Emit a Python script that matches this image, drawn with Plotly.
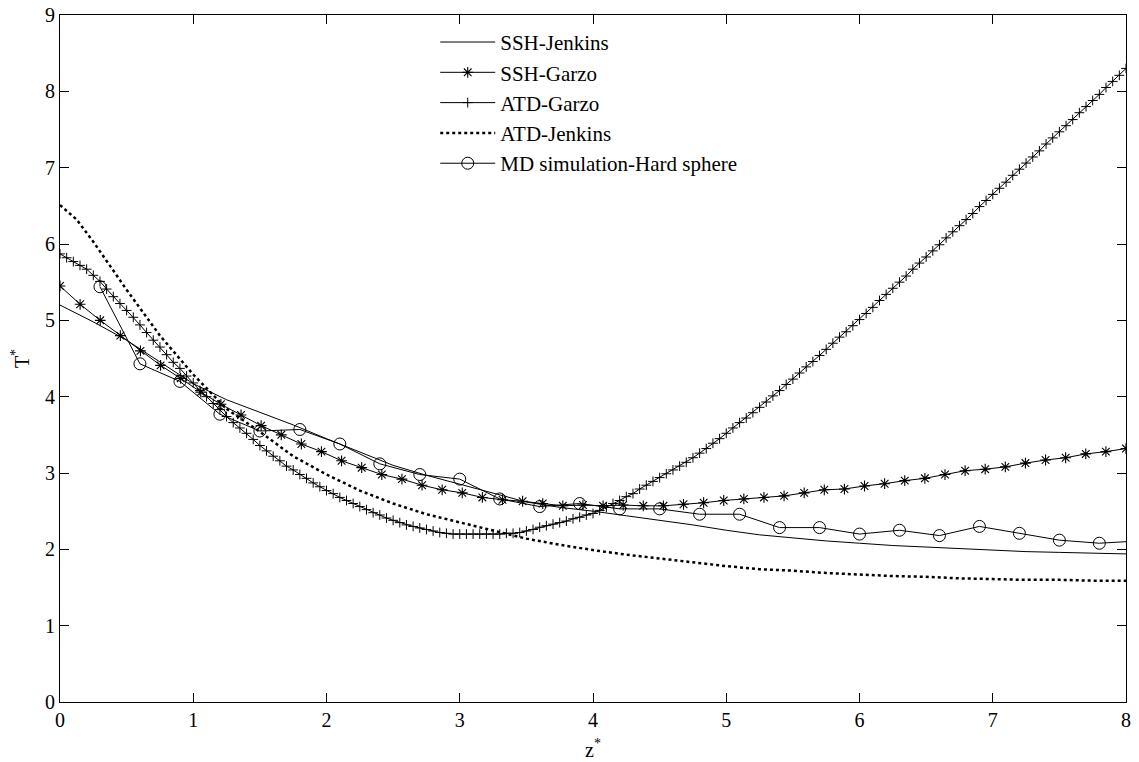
import numpy as np
import plotly.graph_objects as go

# ---- SSH-Jenkins (solid line) ----
ssh_jenkins_z = [0.0, 0.25, 0.5, 0.75, 1.0, 1.25, 1.5, 1.75, 2.0, 2.25, 2.5, 2.75, 3.0,
                 3.25, 3.5, 3.75, 4.0, 4.25, 4.5, 4.75, 5.0, 5.25, 5.5, 5.75, 6.0,
                 6.25, 6.5, 6.75, 7.0, 7.25, 7.5, 7.75, 8.0]
ssh_jenkins_t = [5.20, 4.98, 4.74, 4.45, 4.17, 3.96, 3.80, 3.63, 3.45, 3.27, 3.10, 2.97, 2.85,
                 2.73, 2.62, 2.55, 2.50, 2.44, 2.38, 2.32, 2.25, 2.19, 2.15, 2.11, 2.08,
                 2.05, 2.03, 2.01, 1.99, 1.97, 1.96, 1.95, 1.94]

# ---- SSH-Garzo (asterisks), 54 grid points on [0, 8] ----
ssh_garzo_z = np.linspace(0.0, 8.0, 54)
ssh_garzo_t = [5.45, 5.21, 5.00, 4.80, 4.60, 4.41, 4.24, 4.06, 3.90, 3.76,
               3.62, 3.50, 3.38, 3.28, 3.16, 3.07, 2.98, 2.92, 2.84, 2.78,
               2.74, 2.68, 2.65, 2.63, 2.60, 2.57, 2.58, 2.57, 2.58, 2.57,
               2.57, 2.59, 2.61, 2.64, 2.66, 2.68, 2.70, 2.74, 2.78, 2.79,
               2.83, 2.86, 2.90, 2.93, 2.98, 3.03, 3.05, 3.08, 3.13, 3.17,
               3.20, 3.25, 3.28, 3.32]

# ---- ATD-Garzo (plus markers), grid step 0.05 on [0, 8] ----
atd_garzo_z = np.linspace(0.0, 8.0, 161)
atd_garzo_t = [5.87, 5.82, 5.77, 5.72, 5.67, 5.59, 5.51, 5.41, 5.31, 5.22,
               5.13, 5.04, 4.94, 4.84, 4.74, 4.65, 4.55, 4.45, 4.37, 4.27,
               4.18, 4.08, 4.00, 3.91, 3.83, 3.74, 3.66, 3.59, 3.52, 3.44,
               3.36, 3.29, 3.22, 3.16, 3.09, 3.04, 2.98, 2.93, 2.87, 2.82,
               2.77, 2.73, 2.68, 2.64, 2.60, 2.56, 2.52, 2.48, 2.45, 2.41,
               2.38, 2.35, 2.32, 2.30, 2.28, 2.26, 2.24, 2.22, 2.21, 2.20,
               2.20, 2.20, 2.20, 2.20, 2.20, 2.20, 2.20, 2.21, 2.21, 2.22,
               2.24, 2.26, 2.29, 2.31, 2.33, 2.35, 2.37, 2.40, 2.42, 2.45,
               2.47, 2.51, 2.55, 2.60, 2.64, 2.69, 2.73, 2.79, 2.84, 2.89,
               2.94, 2.99, 3.04, 3.09, 3.14, 3.20, 3.26, 3.32, 3.39, 3.45,
               3.52, 3.59, 3.66, 3.72, 3.79, 3.86, 3.93, 4.01, 4.08, 4.16,
               4.23, 4.31, 4.39, 4.46, 4.54, 4.62, 4.70, 4.78, 4.85, 4.93,
               5.01, 5.09, 5.17, 5.26, 5.34, 5.42, 5.50, 5.58, 5.67, 5.75,
               5.83, 5.91, 5.99, 6.08, 6.16, 6.24, 6.32, 6.40, 6.49, 6.57,
               6.65, 6.73, 6.81, 6.90, 6.98, 7.06, 7.14, 7.22, 7.31, 7.39,
               7.47, 7.55, 7.63, 7.72, 7.80, 7.88, 7.96, 8.05, 8.13, 8.21,
               8.30]

# ---- ATD-Jenkins (dotted line) ----
atd_jenkins_z = [0.0, 0.125, 0.25, 0.5, 0.75, 1.0, 1.25, 1.5, 1.75, 2.0, 2.25, 2.5, 2.75,
                 3.0, 3.25, 3.5, 3.75, 4.0, 4.25, 4.5, 4.75, 5.0, 5.25, 5.5, 5.75,
                 6.0, 6.25, 6.5, 6.75, 7.0, 7.25, 7.5, 7.75, 8.0]
atd_jenkins_t = [6.51, 6.32, 6.03, 5.40, 4.80, 4.29, 3.84, 3.54, 3.22, 2.98, 2.77, 2.60, 2.46,
                 2.35, 2.25, 2.14, 2.06, 1.99, 1.93, 1.88, 1.83, 1.78, 1.74, 1.72, 1.69,
                 1.67, 1.65, 1.64, 1.62, 1.61, 1.60, 1.60, 1.59, 1.59]

# ---- MD simulation, hard spheres (open circles) ----
md_z = [0.3, 0.6, 0.9, 1.2, 1.5, 1.8, 2.1, 2.4, 2.7, 3.0, 3.3, 3.6, 3.9,
        4.2, 4.5, 4.8, 5.1, 5.4, 5.7, 6.0, 6.3, 6.6, 6.9, 7.2, 7.5, 7.8]
md_t = [5.44, 4.43, 4.20, 3.77, 3.55, 3.57, 3.38, 3.12, 2.98, 2.92, 2.66, 2.56, 2.60,
        2.53, 2.53, 2.46, 2.46, 2.285, 2.285, 2.20, 2.25, 2.18, 2.30, 2.21, 2.12, 2.08]
md_end_z = [7.8, 8.0]
md_end_t = [2.08, 2.10]

FONT = "Liberation Serif"
BLACK = "#000000"

fig = go.Figure()

fig.add_trace(go.Scatter(
    x=ssh_jenkins_z, y=ssh_jenkins_t, mode="lines", name="SSH-Jenkins",
    line=dict(color=BLACK, width=1)))

fig.add_trace(go.Scatter(
    x=ssh_garzo_z, y=ssh_garzo_t, mode="lines+markers", name="SSH-Garzo",
    line=dict(color=BLACK, width=1),
    marker=dict(symbol="asterisk-open", size=9, color=BLACK,
                line=dict(color="#333333", width=1.1))))

fig.add_trace(go.Scatter(
    x=atd_garzo_z, y=atd_garzo_t, mode="lines+markers", name="ATD-Garzo",
    line=dict(color=BLACK, width=1),
    marker=dict(symbol="cross-thin-open", size=7, color=BLACK,
                line=dict(color="#333333", width=1))))

fig.add_trace(go.Scatter(
    x=atd_jenkins_z, y=atd_jenkins_t, mode="lines", name="ATD-Jenkins",
    line=dict(color=BLACK, width=2.5, dash="dot")))

# tail of the MD curve past the last sample marker
fig.add_trace(go.Scatter(
    x=md_end_z, y=md_end_t, mode="lines", showlegend=False,
    line=dict(color=BLACK, width=1), hoverinfo="skip"))

fig.add_trace(go.Scatter(
    x=md_z, y=md_t, mode="lines+markers", name="MD simulation-Hard sphere",
    line=dict(color=BLACK, width=1),
    marker=dict(symbol="circle-open", size=12, color=BLACK,
                line=dict(color=BLACK, width=1))))

axis_common = dict(
    showline=True, linecolor=BLACK, linewidth=1, mirror="ticks",
    ticks="inside", ticklen=9, tickwidth=1, tickcolor=BLACK,
    showgrid=False, zeroline=False, automargin=False,
    tickfont=dict(family=FONT, size=20, color=BLACK),
)

fig.update_layout(
    width=1139, height=762,
    margin=dict(l=60, r=13, t=15, b=60),
    paper_bgcolor="white", plot_bgcolor="white",
    font=dict(family=FONT, size=20, color=BLACK),
    showlegend=True,
    legend=dict(
        x=0.352, y=0.990, xanchor="left", yanchor="top",
        bgcolor="rgba(255,255,255,0)", borderwidth=0,
        font=dict(family=FONT, size=21, color=BLACK),
        tracegroupgap=0, itemwidth=55,
    ),
    xaxis=dict(range=[0, 8], dtick=1, tick0=0,
               title=dict(text="z<sup>*</sup>", standoff=12,
                          font=dict(family=FONT, size=20, color=BLACK)),
               **axis_common),
    yaxis=dict(range=[0, 9], dtick=1, tick0=0,
               title=dict(text="T<sup>*</sup>", standoff=10,
                          font=dict(family=FONT, size=20, color=BLACK)),
               **axis_common),
)

fig.write_html("out.html")
